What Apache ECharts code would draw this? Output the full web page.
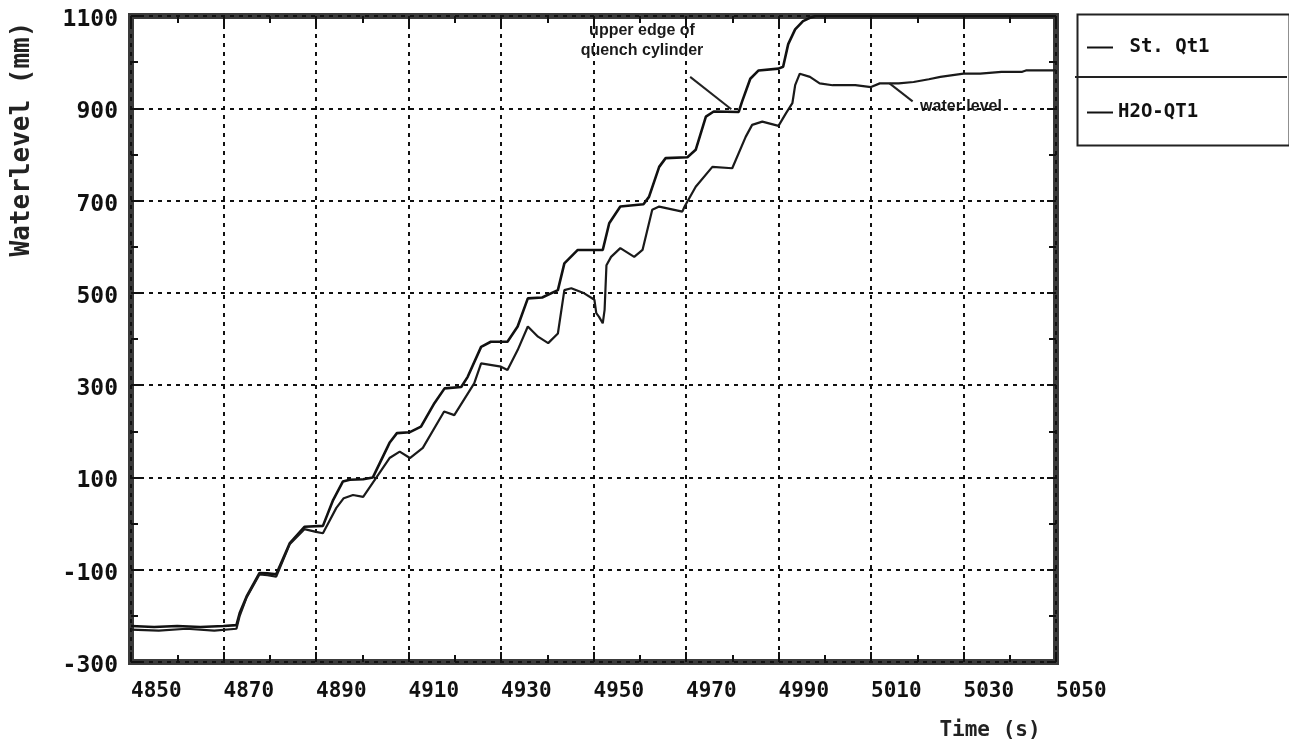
<!DOCTYPE html>
<html>
<head>
<meta charset="utf-8">
<script src="https://cdn.jsdelivr.net/npm/echarts@6/dist/echarts.min.js"></script>
<style>
  html, body { margin: 0; padding: 0; background: #fff; }
  #chart { width: 1289px; height: 746px; }
</style>
</head>
<body>
<div id="chart"></div>
<script>
// Position of the upper edge of the quench cylinder (St. Qt1), time in s, level in mm
const timeStQt1 = [
  4850, 4855, 4860, 4865, 4870, 4872.8, 4873.5, 4875, 4877.8, 4879.5, 4881.4,
  4884.3, 4887.5, 4891.5, 4893.7, 4895.8, 4897.3, 4900.2, 4902.3, 4905.9, 4907.5,
  4910.3, 4912.7, 4915.6, 4917.8, 4921.4, 4922.8, 4925.7, 4927.8, 4931.4, 4933.6,
  4935.8, 4938.9, 4942.3, 4943.7, 4946.6, 4952, 4953.4, 4955.8, 4960.8, 4962,
  4964.2, 4965.6, 4970.3, 4972.1, 4974.3, 4976, 4981.4, 4982.1, 4983.9, 4985.7,
  4990, 4991, 4992.1, 4993.6, 4995.3, 4996.8, 4998, 5050
];
const levelStQt1 = [
  -222, -224, -222, -224, -222, -220, -194, -158, -107, -108, -110,
  -43, -7, -5, 51, 91, 95, 96, 100, 175, 196,
  198, 210, 261, 293, 296, 318, 383, 394, 394, 427,
  488, 490, 506, 564, 593, 593, 651, 687, 692, 708,
  773, 792, 794, 810, 882, 893, 892, 914, 964, 982,
  986, 990, 1039, 1071, 1089, 1096, 1100, 1100
];

// Water level in the quench tube (H2O-QT1)
const timeH2O = [
  4850, 4856, 4862, 4868, 4872.8, 4873.5, 4875, 4877.8, 4879.5, 4881.4, 4884.3,
  4887.5, 4890, 4891.5, 4894.4, 4896, 4898, 4900.2, 4903, 4905.9, 4908.1,
  4910.3, 4913.1, 4917.7, 4919.9, 4924.2, 4925.7, 4930, 4931.4, 4933.6, 4935.8,
  4938, 4940.2, 4942.3, 4943.7, 4945.2, 4948, 4950.2, 4950.6, 4951.2, 4952,
  4952.4, 4952.8, 4953.8, 4955.8, 4958.8, 4960.6, 4962.7, 4964.2, 4969.2, 4969.7,
  4972.1, 4975.7, 4980, 4982.9, 4984.3, 4986.5, 4990, 4991.6, 4993, 4993.6,
  4994.6, 4996.8, 4998.9, 5001.7, 5006.6, 5010, 5011.9, 5016, 5019.2, 5022.5,
  5025, 5030, 5033.6, 5038.2, 5042.7, 5043.5, 5050
];
const levelH2O = [
  -230, -232, -228, -232, -228, -200, -160, -110, -112, -115, -45,
  -12, -18, -21, 34, 55, 62, 58, 99, 142, 156,
  142, 164, 243, 235, 304, 347, 340, 333, 376, 427,
  405, 391, 412, 506, 510, 499, 485, 456, 448, 434,
  463, 560, 578, 597, 578, 593, 680, 687, 676, 687,
  730, 773, 770, 838, 864, 871, 862, 889, 911, 950,
  975, 968, 954, 950, 950, 946, 954, 954, 957, 963,
  968, 975, 975, 979, 979, 982, 982
];

// Tick labels of both axes
const timeTicks = [4850, 4870, 4890, 4910, 4930, 4950, 4970, 4990, 5010, 5030, 5050];
const levelTicks = [-300, -100, 100, 300, 500, 700, 900, 1100];

// Axes run from zero so that the fixed intervals line up with their minimum;
// labels add the origins back.
const T0 = timeTicks[0];
const L0 = levelTicks[0];
const toAxis = (t, v) => [t - T0, v - L0];
const pairs = (ts, vs) => ts.map((t, i) => toAxis(t, vs[i]));

const chart = echarts.init(document.getElementById('chart'));

const monoBold = { fontFamily: 'DejaVu Sans Mono', fontWeight: 'bold', color: '#111' };
const dashed = { color: '#111', width: 2, type: [4, 5] };
const tickStyle = { color: '#111', width: 2 };

function xAxisDef(position, withLabels) {
  return {
    type: 'value', position,
    min: 0, max: timeTicks[timeTicks.length - 1] - T0, interval: timeTicks[1] - timeTicks[0],
    axisLine: { show: false, onZero: false },
    axisTick: { show: true, inside: true, length: 10, lineStyle: tickStyle },
    minorTick: { show: true, splitNumber: 2, length: 7, lineStyle: tickStyle },
    splitLine: { show: withLabels, lineStyle: dashed },
    axisLabel: withLabels ? {
      show: true, align: 'left', margin: 19, fontSize: 21, ...monoBold,
      formatter: v => String(v + T0)
    } : { show: false }
  };
}

function yAxisDef(position, withLabels) {
  return {
    type: 'value', position,
    min: 0, max: levelTicks[levelTicks.length - 1] - L0, interval: levelTicks[1] - levelTicks[0],
    axisLine: { show: false, onZero: false },
    axisTick: { show: true, inside: true, length: 9, lineStyle: tickStyle },
    minorTick: { show: true, splitNumber: 2, length: 7, lineStyle: tickStyle },
    splitLine: { show: withLabels, lineStyle: dashed },
    axisLabel: withLabels ? {
      show: true, margin: 13, fontSize: 23, ...monoBold,
      verticalAlign: 'top', lineHeight: 8,
      formatter: v => String(v + L0)
    } : { show: false }
  };
}

const leader = { color: '#222', width: 2, type: 'solid' };
const noteFont = { fontFamily: 'Liberation Sans', fontWeight: 'bold', fontSize: 16, fill: '#1a1a1a' };

chart.setOption({
  animation: false,
  backgroundColor: '#fff',
  grid: {
    left: 131, top: 16, width: 925, height: 646,
    show: true, borderColor: '#3a3a3a', borderWidth: 6, backgroundColor: 'transparent'
  },
  xAxis: [xAxisDef('bottom', true), xAxisDef('top', false)],
  yAxis: [yAxisDef('left', true), yAxisDef('right', false)],
  legend: {
    orient: 'vertical', left: 1082, top: 33, itemGap: 46,
    itemWidth: 26, itemHeight: 2, icon: 'rect',
    textStyle: { fontFamily: 'DejaVu Sans Mono', fontWeight: 'bold', fontSize: 19, color: '#111' },
    formatter: name => (name === 'St. Qt1' ? ' ' + name : name),
    data: ['St. Qt1', 'H2O-QT1']
  },
  series: [
    {
      name: 'St. Qt1', type: 'line', data: pairs(timeStQt1, levelStQt1),
      showSymbol: false, color: '#111', lineStyle: { width: 2.6, color: '#111' },
      markLine: {
        silent: true, symbol: ['none', 'none'], label: { show: false }, lineStyle: leader,
        data: [[{ coord: toAxis(4970.9, 968) }, { coord: toAxis(4979.8, 898) }]]
      }
    },
    {
      name: 'H2O-QT1', type: 'line', data: pairs(timeH2O, levelH2O),
      showSymbol: false, color: '#111', lineStyle: { width: 2.2, color: '#1a1a1a' },
      markLine: {
        silent: true, symbol: ['none', 'none'], label: { show: false }, lineStyle: leader,
        data: [[{ coord: toAxis(5014, 954) }, { coord: toAxis(5019, 915) }]]
      }
    }
  ],
  graphic: [
    // legend frame
    { type: 'rect', left: 1075, top: 12, shape: { width: 212, height: 131 },
      style: { fill: 'none', stroke: '#222', lineWidth: 2 }, silent: true },
    { type: 'line', shape: { x1: 1075, y1: 77, x2: 1287, y2: 77 },
      style: { stroke: '#222', lineWidth: 2 }, silent: true },
    // axis titles
    { type: 'text', x: 22, y: 139, rotation: Math.PI / 2,
      style: { text: 'Waterlevel (mm)', x: 0, y: 0, align: 'center', verticalAlign: 'middle',
               fontFamily: 'DejaVu Sans Mono', fontWeight: 'bold', fontSize: 26, fill: '#222' } },
    { type: 'text', x: 990, y: 731,
      style: { text: 'Time (s)', x: 0, y: 0, align: 'center', verticalAlign: 'middle',
               fontFamily: 'DejaVu Sans Mono', fontWeight: 'bold', fontSize: 21, fill: '#222' } },
    // curve annotations
    { type: 'text', x: 642, y: 41,
      style: { text: 'upper edge of\nquench cylinder', x: 0, y: 0, align: 'center', verticalAlign: 'middle',
               lineHeight: 20, ...noteFont } },
    { type: 'text', x: 961, y: 107,
      style: { text: 'water level', x: 0, y: 0, align: 'center', verticalAlign: 'middle', ...noteFont } }
  ]
});
</script>
</body>
</html>
